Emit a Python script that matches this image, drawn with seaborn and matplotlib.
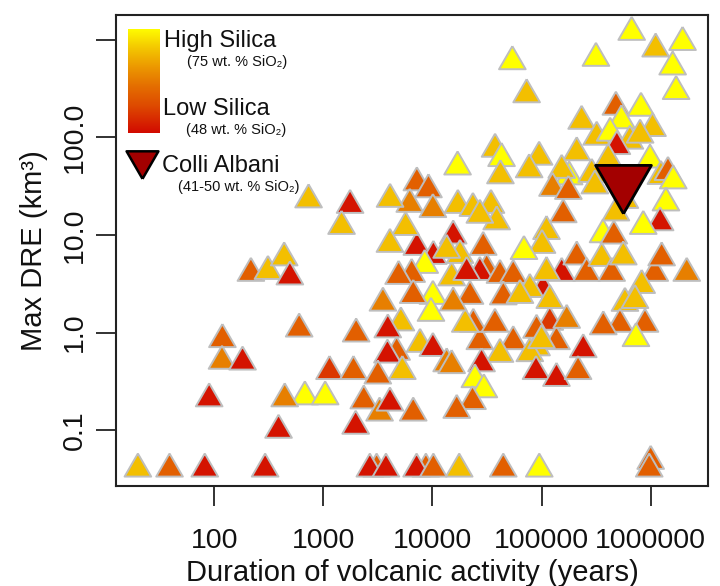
import numpy as np
import pandas as pd
import matplotlib
matplotlib.use("Agg")
import matplotlib.pyplot as plt
from matplotlib.colors import LinearSegmentedColormap
import seaborn as sns

# ---------------- data ----------------
# silica classes: R=49, RO=53, D=58, O=62, G=69, Y=75 wt.% SiO2
duration = [
    6.7e5, 1.11e6, 1.96e6, 1.59e6, 1.71e6, 3.15e5, 5.4e4, 7.3e4, 4.8e5, 8.15e5,
    2.33e5, 5.4e5, 1.04e6, 3.2e5, 4.25e5, 6.45e5, 8.0e5, 4.9e5, 2.1e5, 3.75e4,
    4.3e4, 9.5e4, 1.7e4, 4.2e4, 7.7e4, 1.79e5, 1.53e5, 1.26e5, 1.76e5, 2.88e5,
    3.08e5, 4.08e5, 9.86e5, 1.24e6, 1.44e6, 1.61e6, 1.38e6, 1.22e6, 5.8e5, 4.8e5,
    8.55e5, 3.66e5, 4.6e5, 1.11e5, 1.01e5, 1.58e5, 6.9e4, 7.2e3, 9.2e3, 6.2e3,
    1.01e4, 1.71e4, 2.35e4, 3.44e4, 3.88e4, 1.55e4, 2.72e4, 2.92e4, 1.79e4, 7.2e3,
    1.02e4, 1.35e4, 8.5e3, 1.5e4, 6.45e3, 4.9e3, 3.14e4, 2.72e4, 4.16e4, 5.5e4,
    2.06e4, 1.03e5, 7.8e4, 4.46e4, 1.01e4, 2.21e4, 9.7e3, 3.52e3, 5.14e3, 2.0e3,
    3.9e3, 2.72e4, 5.5e4, 2.37e4, 2.0e4, 3.74e4, 4.16e4, 2.82e4, 1.19e5, 1.37e5,
    9.0e4, 7.8e4, 8.9e4, 1.37e5, 2.41e5, 2.16e5, 7.7e3, 1.01e4, 1.35e4, 1.5e4,
    4.7e3, 3.87e3, 5.3e3, 1.14e3, 1.89e3, 3.16e3, 2.45e4, 2.96e4, 2.33e4, 1.67e4,
    2.35e3, 3.28e3, 4.08e3, 6.67e3, 1.98e3, 678, 1.04e3, 443, 389, 90,
    119, 118, 182, 601, 217, 311, 438, 494, 733, 1.76e3,
    1.47e3, 4.09e3, 5.68e3, 4.08e3, 6.67e3, 1.55e4, 6.34e4, 1.19e5, 1.53e5, 1.11e5,
    2.1e5, 2.59e5, 3.56e5, 4.39e5, 5.61e5, 1.09e6, 1.26e6, 2.14e6, 8.27e5, 5.81e5,
    7.18e5, 5.23e5, 3.68e5, 8.87e5, 7.33e5, 9.0e4, 1.7e5, 1.0e5,
    # bottom row (no volume estimate)
    20, 39, 82, 293, 3080, 2670, 3750, 8710, 7160, 1.02e4,
    1.76e4, 4.46e4, 9.53e4, 1.0e6, 9.7e5,
]
max_dre = [
    1200, 810, 945, 530, 297, 650, 600, 275, 205, 200,
    147, 149, 124, 101, 111, 92, 106, 81, 70, 76,
    61, 63, 50, 40.6, 46.8, 39.6, 46.2, 30.2, 28.1, 42,
    32, 60, 59, 40, 44, 36, 21.4, 13.4, 22.7, 16.9,
    12.3, 10.1, 9.8, 10.9, 7.85, 16.2, 6.8, 34.4, 29.2, 20.7,
    18.3, 20.2, 18.8, 20.2, 13.7, 9.8, 16, 7.5, 6.2, 7.5,
    6.06, 7.0, 4.9, 3.65, 3.96, 3.78, 4.46, 4.15, 3.87, 3.87,
    4.15, 2.78, 2.78, 2.33, 2.36, 2.36, 1.58, 2.01, 1.26, 0.97,
    1.07, 0.81, 0.81, 1.22, 1.22, 1.22, 0.6, 0.48, 1.28, 0.81,
    0.70, 0.61, 0.40, 0.34, 0.67, 0.40, 0.76, 0.69, 0.48, 0.46,
    0.63, 0.59, 0.40, 0.40, 0.40, 0.36, 0.33, 0.26, 0.197, 0.16,
    0.20, 0.15, 0.19, 0.15, 0.11, 0.22, 0.22, 0.21, 0.10, 0.21,
    0.85, 0.51, 0.50, 1.09, 4.06, 4.25, 5.85, 3.73, 23, 20.2,
    12.3, 23.3, 12, 8.05, 2.41, 2.02, 2.41, 2.14, 4.06, 4.15,
    5.98, 4.06, 5.78, 4.06, 5.98, 4.06, 5.85, 4.06, 3.05, 2.0,
    2.14, 1.22, 1.15, 1.22, 0.87, 1.06, 1.34, 0.83,
    0.04, 0.04, 0.04, 0.04, 0.04, 0.04, 0.04, 0.04, 0.04, 0.04,
    0.04, 0.04, 0.04, 0.048, 0.04,
]
silica = [
    75, 69, 75, 75, 75, 75, 75, 69, 58, 75,
    69, 75, 69, 69, 75, 69, 69, 49, 69, 69,
    75, 69, 75, 69, 69, 75, 69, 62, 58, 69,
    69, 69, 75, 69, 58, 75, 75, 49, 69, 69,
    75, 75, 58, 69, 69, 58, 75, 58, 58, 62,
    62, 69, 69, 69, 69, 49, 69, 58, 69, 49,
    49, 69, 75, 69, 58, 58, 58, 49, 58, 58,
    49, 49, 69, 58, 75, 58, 75, 62, 69, 58,
    49, 58, 58, 58, 69, 58, 69, 49, 53, 58,
    69, 69, 49, 49, 49, 58, 69, 49, 62, 62,
    58, 49, 69, 53, 58, 58, 75, 75, 58, 58,
    58, 62, 49, 58, 49, 75, 75, 62, 49, 49,
    58, 62, 49, 58, 58, 69, 69, 49, 69, 49,
    69, 69, 69, 69, 58, 62, 69, 69, 49, 69,
    58, 58, 69, 58, 69, 58, 58, 62, 69, 69,
    69, 58, 58, 58, 75, 58, 62, 69,
    69, 58, 49, 49, 58, 49, 49, 58, 49, 58,
    69, 58, 75, 58, 58,
]

colli_duration = [5.6e5]
colli_dre = [36]

y_ticks = [0.1, 1, 10, 100, 1000]
y_tick_labels = ["0.1", "1.0", "10.0", "100.0", ""]
x_ticks = [100, 1000, 10000, 100000, 1000000]
x_tick_labels = ["100", "1000", "10000", "100000", "1000000"]

# ---------------- style ----------------
sns.set_style("white")
plt.rcParams["font.family"] = ["Liberation Sans", "DejaVu Sans"]

cmap = LinearSegmentedColormap.from_list(
    "silica",
    [(0.0, "#D20A00"), (7 / 27, "#DE4A00"), (12 / 27, "#E46E00"),
     (17 / 27, "#EC9800"), (22 / 27, "#F4C800"), (1.0, "#FFFF00")],
)

df = pd.DataFrame({"duration": duration, "dre": max_dre, "silica": silica})
dfc = pd.DataFrame({"duration": colli_duration, "dre": colli_dre})

up_tri = [(0, 1), (-0.8660254, -0.5), (0.8660254, -0.5), (0, 1)]
down_tri = [(0, -1), (-0.8660254, 0.5), (0.8660254, 0.5), (0, -1)]

fig = plt.figure(figsize=(7.2, 5.86), dpi=100)
ax = fig.add_axes([0.1611, 0.1706, 0.8222, 0.8038])

sns.scatterplot(data=df, x="duration", y="dre", hue="silica", palette=cmap,
                hue_norm=(48, 75), marker=up_tri, s=490, edgecolor="#BEBEBE",
                linewidth=1.4, legend=False, ax=ax, zorder=3)
sns.scatterplot(data=dfc, x="duration", y="dre", color="#A30000",
                marker=down_tri, s=2150, edgecolor="black", linewidth=2.0,
                legend=False, ax=ax, zorder=4)

ax.set_xscale("log")
ax.set_yscale("log")
ax.set_xlim(12.6, 3.35e6)
ax.set_ylim(0.0267, 1800)
ax.xaxis.set_minor_locator(matplotlib.ticker.NullLocator())
ax.yaxis.set_minor_locator(matplotlib.ticker.NullLocator())
ax.set_xticks(x_ticks)
ax.set_xticklabels(x_tick_labels)
ax.set_yticks(y_ticks)
ax.set_yticklabels(y_tick_labels)

for sp in ax.spines.values():
    sp.set_visible(True)
    sp.set_color("#222222")
    sp.set_linewidth(1.5)

ax.tick_params(axis="both", which="major", direction="out", length=14.5,
               width=1.3, color="#222222", labelsize=20.5, labelcolor="#111111",
               bottom=True, left=True, top=False, right=False)
ax.tick_params(axis="x", pad=16)
ax.tick_params(axis="y", pad=6)
for lbl in ax.get_yticklabels():
    lbl.set_rotation(90)
    lbl.set_va("center")

ax.set_xlabel("Duration of volcanic activity (years)", fontsize=21, color="#111111", labelpad=3)
ax.set_ylabel("Max DRE (km³)", fontsize=21, color="#111111", labelpad=10)

# ---------------- legend ----------------
cax = fig.add_axes([0.1774, 0.7730, 0.0431, 0.1775])
cax.imshow(np.linspace(48, 75, 256)[:, None], aspect="auto", cmap=cmap,
           origin="lower", vmin=48, vmax=75)
cax.axis("off")

ax.scatter([0.0444], [0.692], transform=ax.transAxes, marker=down_tri, s=700,
           color="#A30000", edgecolor="black", linewidth=1.8, zorder=5, clip_on=False)

tx = dict(transform=ax.transAxes, va="baseline", ha="left", color="#111111", zorder=6)
ax.text(0.0816, 0.9314, "High Silica", fontsize=17, **tx)
ax.text(0.120, 0.8924, "(75 wt. % SiO₂)", fontsize=10.5, **tx)
ax.text(0.0789, 0.787, "Low Silica", fontsize=17, **tx)
ax.text(0.118, 0.748, "(48 wt. % SiO₂)", fontsize=10.5, **tx)
ax.text(0.0772, 0.666, "Colli Albani", fontsize=17, **tx)
ax.text(0.1053, 0.6257, "(41-50 wt. % SiO₂)", fontsize=10.5, **tx)

fig.savefig("out.png", dpi=100)
